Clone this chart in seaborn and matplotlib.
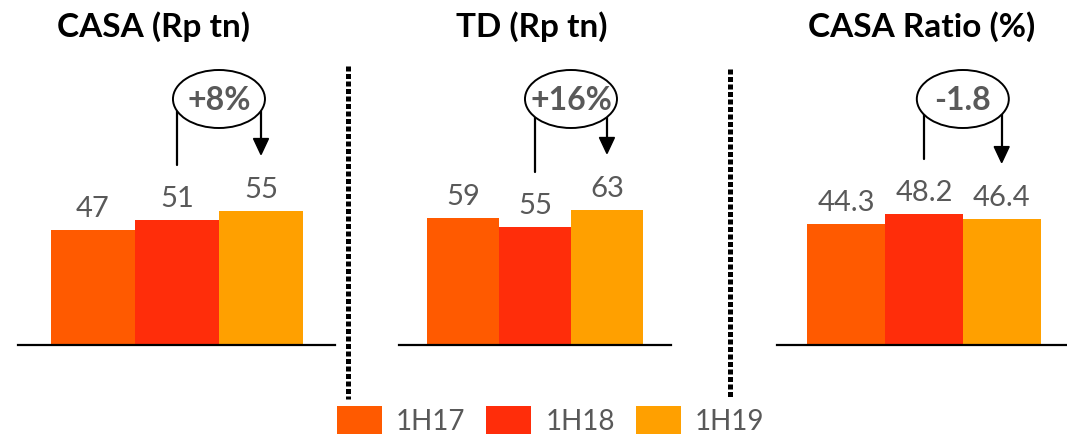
import matplotlib
matplotlib.use('Agg')
import matplotlib.pyplot as plt
import seaborn as sns
from matplotlib.patches import Ellipse, Polygon, Patch
from matplotlib.lines import Line2D
from matplotlib.transforms import IdentityTransform

# Datos del gráfico
periodos = ['1H17', '1H18', '1H19']
casa = [47, 51, 55]
td = [59, 55, 63]
casa_ratio = [44.3, 48.2, 46.4]
titulos = ['CASA (Rp tn)', 'TD (Rp tn)', 'CASA Ratio (%)']
variaciones = ['+8%', '+16%', '-1.8']
colores = ['#FF5A00', '#FF2D0A', '#FFA000']

GRIS = '#595959'
W, H = 1067, 439

sns.set_theme(style='white')
plt.rcParams['font.family'] = ['Lato', 'DejaVu Sans']

fig = plt.figure(figsize=(W / 100, H / 100), dpi=100)

# posiciones de los ejes en pixeles: (izquierda, ancho)
paneles = [(18, 317), (399, 272), (777, 290)]
limites_x = [(-0.89, 2.88), (-0.89, 2.89), (-0.89, 2.84)]
limites_y = [117, 133, 105]
pos_titulo = [0.429, 0.489, 0.497]
formatos = ['{:.0f}', '{:.0f}', '{:.1f}']
series = [casa, td, casa_ratio]

base_px, alto_px = 93, 286

for i, valores in enumerate(series):
    izq, ancho = paneles[i]
    ax = fig.add_axes([izq / W, base_px / H, ancho / W, alto_px / H])
    sns.barplot(x=periodos, y=valores, hue=periodos, palette=colores,
                width=1, saturation=1, legend=False, linewidth=0, ax=ax)
    ax.set_xlim(*limites_x[i])
    ax.set_ylim(0, limites_y[i])
    ax.set_xticks([])
    ax.set_yticks([])
    ax.set_xlabel('')
    ax.set_ylabel('')
    for lado in ['top', 'left', 'right']:
        ax.spines[lado].set_visible(False)
    ax.spines['bottom'].set_color('black')
    ax.spines['bottom'].set_linewidth(1.6)

    for j, v in enumerate(valores):
        ax.annotate(formatos[i].format(v), (j, v), xytext=(0, 10),
                    textcoords='offset points', ha='center', va='baseline',
                    fontsize=21, color=GRIS)

    ax.text(pos_titulo[i], 1 + 33 / alto_px, titulos[i], transform=ax.transAxes,
            ha='center', va='center', fontsize=24, fontweight='bold', color='black')

    # flecha de variación entre 1H18 y 1H19 (coordenadas de pantalla)
    x2, y2 = ax.transData.transform((1, valores[1]))
    x3, y3 = ax.transData.transform((2, valores[2]))
    y_top = H - 112
    fig.add_artist(Line2D([x2, x2], [y2 + 55, y_top], color='black', lw=1.6,
                          transform=IdentityTransform()))
    punta = y3 + 56
    fig.add_artist(Line2D([x3, x3], [punta + 14, y_top], color='black', lw=1.6,
                          transform=IdentityTransform()))
    fig.add_artist(Polygon([(x3 - 7.5, punta + 16), (x3 + 7.5, punta + 16), (x3, punta)],
                           closed=True, color='black', transform=IdentityTransform()))
    cx = (x2 + x3) / 2
    fig.add_artist(Ellipse((cx, H - 100), 92, 58, facecolor='white', edgecolor='black',
                           lw=1.4, zorder=5, transform=IdentityTransform()))
    fig.text(cx / W, 1 - 100 / H, variaciones[i], ha='center', va='center',
             fontsize=23, fontweight='bold', color=GRIS, zorder=6)

# separadores punteados
for xs, y0 in [(348, 67), (730, 70)]:
    fig.add_artist(Line2D([xs, xs], [H - y0, H - 400], color='black', lw=3.6,
                          linestyle=(0, (1, 0.5)), transform=IdentityTransform()))

handles = [Patch(facecolor=c, edgecolor='none') for c in colores]
fig.legend(handles, periodos, ncol=3, loc='center', bbox_to_anchor=(0.516, 0.041),
           frameon=False, fontsize=20, handlelength=1.62, handleheight=1.19,
           handletextpad=0.5, columnspacing=0.75, labelcolor=GRIS, borderpad=0)

fig.savefig('out.png', dpi=100)
